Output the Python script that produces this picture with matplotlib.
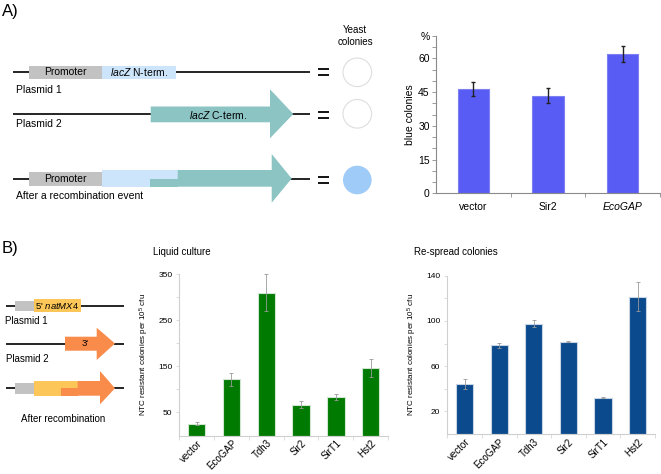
import matplotlib
matplotlib.use("Agg")
import matplotlib.pyplot as plt
from matplotlib.patches import Polygon, Rectangle, Circle
import numpy as np

plt.rcParams['font.family'] = ['Liberation Sans', 'DejaVu Sans']
plt.rcParams['mathtext.fontset'] = 'custom'
plt.rcParams['mathtext.rm'] = 'Liberation Sans'
plt.rcParams['mathtext.it'] = 'Liberation Sans:italic'

# ---------------- data ----------------
A_categories = ['vector', 'Sir2', 'EcoGAP']
A_values = [46.5, 43.5, 62.0]
A_errors = [3.0, 3.3, 3.7]
A_ytick_values = [0, 15, 30, 45, 60]

B_categories = ['vector', 'EcoGAP', 'Tdh3', 'Sir2', 'SirT1', 'Hst2']
liquid_values = [26, 122, 310, 67, 84, 146]
liquid_errors = [4, 14, 40, 7, 7, 20]
liquid_yticks = [50, 150, 250, 350]
respread_values = [44, 78.3, 97.4, 81.8, 32, 121.5]
respread_errors = [4.3, 2.5, 3.0, 0.8, 0.5, 12.5]
respread_yticks = [20, 60, 100, 140]

W, H = 661, 474
fig = plt.figure(figsize=(W / 100, H / 100), dpi=100)

# ---------------- diagram canvas (pixel coords) ----------------
ax0 = fig.add_axes([0, 0, 1, 1])
ax0.set_xlim(0, W)
ax0.set_ylim(H, 0)
ax0.axis('off')

GRAY = '#c2c2c2'
LBLUE = '#cde5fb'
TEAL = '#8cc4c3'
CBLUE = '#9ecbf7'
YEL = '#fcc758'
ORA = '#f98b4b'
LW = 1.2
fs_d = 7.5

def hline(x0, x1, y, lw=LW):
    ax0.plot([x0, x1], [y, y], color='black', lw=lw, solid_capstyle='butt', zorder=1)

def rect(x0, x1, y0, y1, color):
    ax0.add_patch(Rectangle((x0, y0), x1 - x0, y1 - y0, facecolor=color, edgecolor='none', zorder=2))

def arrow(x0, xh, x1, by0, by1, hy0, hy1, color, ymid):
    pts = [(x0, by0), (xh, by0), (xh, hy0), (x1, ymid), (xh, hy1), (xh, by1), (x0, by1)]
    ax0.add_patch(Polygon(pts, closed=True, facecolor=color, edgecolor='none', zorder=2))

def equals(x, y):
    hline(318, 328.5, y - 3, lw=1.3)
    hline(318, 328.5, y + 3, lw=1.3)

ax0.text(2, 11, 'A)', fontsize=12, ha='left', va='center')
ax0.text(355, 30, 'Yeast', fontsize=7, ha='center', va='center')
ax0.text(355, 41.5, 'colonies', fontsize=7, ha='center', va='center')

# Plasmid 1
y1 = 72
hline(12.7, 310, y1)
rect(29.3, 101.7, 65.7, 79, GRAY)
rect(101.7, 176, 65.7, 79, LBLUE)
ax0.text(65.5, y1, 'Promoter', fontsize=fs_d, ha='center', va='center', zorder=4)
ax0.text(139, y1, r'$\mathit{lacZ}$ N-term.', fontsize=fs_d, ha='center', va='center', zorder=4)
ax0.text(15.5, 89.5, 'Plasmid 1', fontsize=fs_d, ha='left', va='center')
equals(323, y1)
ax0.add_patch(Circle((357.3, 72.3), 14.3, facecolor='white', edgecolor='#dedede', lw=0.8))

# Plasmid 2
y2 = 113.5
hline(12.7, 152, y2)
hline(292, 310, y2)
arrow(150.7, 270, 293.3, 106.5, 122.3, 89.3, 138.3, TEAL, y2 + 0.5)
ax0.text(218, 115, r'$\mathit{lacZ}$ C-term.', fontsize=fs_d, ha='center', va='center', zorder=4)
ax0.text(15.5, 123.5, 'Plasmid 2', fontsize=fs_d, ha='left', va='center')
equals(323, 115)
ax0.add_patch(Circle((357.3, 113.8), 14.3, facecolor='white', edgecolor='#dedede', lw=0.8))

# After recombination
y3 = 179
hline(12.7, 30, y3)
hline(290, 310, y3)
rect(29.3, 101.7, 172.3, 185.5, GRAY)
rect(101.7, 177.7, 170, 186.7, LBLUE)
arrow(177.7, 271.7, 291.7, 170, 186.7, 154, 202.7, TEAL, 178.5)
rect(150.3, 178, 179, 186.7, TEAL)
ax0.text(65.5, y3, 'Promoter', fontsize=fs_d, ha='center', va='center', zorder=4)
ax0.text(15.5, 196, 'After a recombination event', fontsize=fs_d, ha='left', va='center')
equals(323, 180)
ax0.add_patch(Circle((357.3, 180), 14.3, facecolor=CBLUE, edgecolor='none'))

# Panel B diagram
ax0.text(2, 248, 'B)', fontsize=12, ha='left', va='center')
fs_b = 7
# Plasmid 1
yb1 = 305.5
hline(5.7, 16, yb1)
hline(80, 124, yb1)
rect(15, 34.3, 301, 311, GRAY)
rect(34.3, 81, 299.3, 312, YEL)
ax0.text(57.5, yb1, r"5' $\mathit{natMX4}$", fontsize=6.8, ha='center', va='center', zorder=4)
ax0.text(5, 321.5, 'Plasmid 1', fontsize=fs_b, ha='left', va='center')
# Plasmid 2
yb2 = 343.5
hline(5.7, 66, yb2)
hline(114, 124, yb2)
arrow(65, 96.7, 115, 336.7, 350.7, 327.7, 360, ORA, yb2)
ax0.text(85, 343.5, "3'", fontsize=6.8, ha='center', va='center', zorder=4)
ax0.text(6, 358.5, 'Plasmid 2', fontsize=fs_b, ha='left', va='center')
# After recombination
yb3 = 388.3
hline(5.7, 16, yb3)
hline(114, 124, yb3)
rect(15, 34.3, 382.7, 394, GRAY)
rect(34.3, 77.7, 381, 395.7, YEL)
arrow(77.7, 100, 115, 381, 395.7, 371, 404.3, ORA, yb3)
rect(61, 78, 388.3, 395.7, ORA)
ax0.text(63, 419, 'After recombination', fontsize=fs_b, ha='center', va='center')

# ---------------- Panel A bar chart ----------------
axA = fig.add_axes([436 / W, 1 - 193.3 / H, 224 / W, 157.3 / H])
xA = np.arange(len(A_categories))
axA.bar(xA, A_values, width=0.42, color='#585cf5', edgecolor='#7d80ee', linewidth=0.8, zorder=2)
axA.errorbar(xA, A_values, yerr=A_errors, fmt='none', ecolor='#222222', elinewidth=1.0,
             capsize=1.6, capthick=1.0, zorder=3)
axA.set_xlim(-0.5, 2.5)
axA.set_ylim(0, 70)
for s in ['top', 'right']:
    axA.spines[s].set_visible(False)
for s in ['left', 'bottom']:
    axA.spines[s].set_color('#8a8a8a')
    axA.spines[s].set_linewidth(0.8)
yt = np.arange(0, 75, 5)
axA.set_yticks(yt)
axA.set_yticklabels([str(v) if v in A_ytick_values else ('%' if v == 70 else '') for v in yt])
axA.tick_params(axis='y', length=3, width=0.6, color='#8a8a8a', labelsize=7.5, pad=1.5)
axA.set_xticks(xA)
axA.set_xticklabels(A_categories, fontsize=7.5)
for lab in axA.get_xticklabels():
    if lab.get_text() == 'EcoGAP':
        lab.set_style('italic')
axA.tick_params(axis='x', length=0, pad=6)
axA.set_xticks([0.5, 1.5, 2.5], minor=True)
axA.tick_params(axis='x', which='minor', length=3, width=0.6, color='#8a8a8a')
axA.set_ylabel('blue colonies', fontsize=7.5, labelpad=2)

# ---------------- Panel B bar charts ----------------
def panelB(rect_px, values, errors, yticks, ymax, color, edge, title, title_x):
    l, r, t, b = rect_px
    ax = fig.add_axes([l / W, 1 - b / H, (r - l) / W, (b - t) / H])
    x = np.arange(len(B_categories))
    ax.bar(x, values, width=0.5, color=color, edgecolor=edge, linewidth=0.8, zorder=2)
    ax.errorbar(x, values, yerr=errors, fmt='none', ecolor='#9a9a9a', elinewidth=0.6,
                capsize=1.6, capthick=0.6, zorder=3)
    ax.set_xlim(-0.5, len(B_categories) - 0.5)
    ax.set_ylim(0, ymax)
    for s in ['top', 'right']:
        ax.spines[s].set_visible(False)
    for s in ['left', 'bottom']:
        ax.spines[s].set_color('#cfcfcf')
        ax.spines[s].set_linewidth(0.8)
    ax.set_yticks(yticks)
    ax.set_yticklabels([str(v) for v in yticks], fontsize=6)
    step = yticks[1] - yticks[0]
    ax.set_yticks([v + step / 2 for v in yticks[:-1]], minor=True)
    ax.tick_params(axis='y', which='both', length=2, width=0.5, color='#cfcfcf', pad=3)
    ax.set_xticks(x)
    ax.set_xticklabels(B_categories, fontsize=7, rotation=45, ha='right', va='top',
                       rotation_mode='anchor')
    ax.tick_params(axis='x', length=0, pad=2)
    ax.set_xticks(np.arange(-0.5, len(B_categories) + 0.5, 1), minor=True)
    ax.tick_params(axis='x', which='minor', length=3, width=0.5, color='#cfcfcf')
    ax.set_ylabel(r'NTC resistant colonies per 10$^5$ cfu', fontsize=5.8, labelpad=5)
    fig.text(title_x / W, 1 - 252 / H, title, fontsize=7, ha='left', va='center')
    return ax

panelB((179.3, 388, 274.3, 435.5), liquid_values, liquid_errors, liquid_yticks, 350,
       '#007a00', '#cfe6cf', 'Liquid culture', 152.7)
panelB((447.3, 655, 275.7, 434), respread_values, respread_errors, respread_yticks, 140,
       '#0b4a8c', '#c6d4e4', 'Re-spread colonies', 414)

fig.savefig('out.png', dpi=100)
